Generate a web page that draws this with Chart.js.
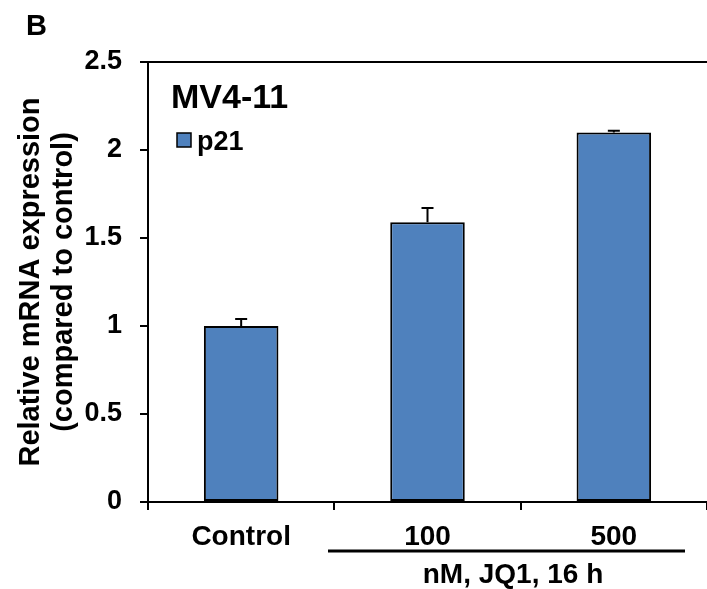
<!DOCTYPE html>
<html>
<head>
<meta charset="utf-8">
<script src="https://cdn.jsdelivr.net/npm/chart.js@4/dist/chart.umd.min.js"></script>
<style>
  html, body { margin: 0; padding: 0; background: #fff; }
  #wrap { width: 707px; height: 589px; }
</style>
</head>
<body>
<div id="wrap"><canvas id="chart" width="707" height="589"></canvas></div>
<script>
// values
const categories = ['Control', '100', '500'];
const p21Values = [1.00, 1.59, 2.10];
const p21Errors = [0.04, 0.08, 0.01];
const yTicks = [0, 0.5, 1, 1.5, 2, 2.5];

const FONT = "'Liberation Sans', Arial, sans-serif";
const BAR_BLUE = '#4F81BD';

// error bars, frame line and the extra text (panel letter, cell line, legend, group label)
const extrasPlugin = {
    id: 'extras',
    afterDatasetsDraw(chart) {
        const ctx = chart.ctx;
        const meta = chart.getDatasetMeta(0);
        const y = chart.scales.y;
        ctx.save();
        ctx.strokeStyle = '#000';
        ctx.lineWidth = 2;
        meta.data.forEach((bar, i) => {
            const top = y.getPixelForValue(p21Values[i] + p21Errors[i]);
            const base = y.getPixelForValue(p21Values[i]);
            ctx.beginPath();
            ctx.moveTo(bar.x, base);
            ctx.lineTo(bar.x, top);
            ctx.moveTo(bar.x - 6, top);
            ctx.lineTo(bar.x + 6, top);
            ctx.stroke();
        });
        ctx.restore();
    },
    afterDraw(chart) {
        const ctx = chart.ctx;
        const area = chart.chartArea;
        ctx.save();
        ctx.fillStyle = '#000';
        ctx.strokeStyle = '#000';

        // top frame line
        ctx.lineWidth = 2;
        ctx.beginPath();
        ctx.moveTo(area.left - 8, area.top);
        ctx.lineTo(chart.width, area.top);
        ctx.stroke();

        // panel letter
        ctx.font = 'bold 29px ' + FONT;
        ctx.textAlign = 'left';
        ctx.textBaseline = 'alphabetic';
        ctx.fillText('B', 26, 35);

        // cell line
        ctx.font = 'bold 34px ' + FONT;
        ctx.fillText('MV4-11', 171, 108);

        // legend
        ctx.fillStyle = BAR_BLUE;
        ctx.fillRect(177, 133, 14, 14);
        ctx.lineWidth = 1.5;
        ctx.strokeRect(177, 133, 14, 14);
        ctx.fillStyle = '#000';
        ctx.font = 'bold 27px ' + FONT;
        ctx.fillText('p21', 197, 150);

        // y axis title (two lines)
        ctx.font = 'bold 29px ' + FONT;
        ctx.textAlign = 'center';
        [['Relative mRNA expression', 39], ['(compared to control)', 72]].forEach(([txt, x]) => {
            ctx.save();
            ctx.translate(x, 282);
            ctx.rotate(-Math.PI / 2);
            ctx.fillText(txt, 0, 0);
            ctx.restore();
        });

        // treatment group underline + label
        ctx.lineWidth = 3;
        ctx.beginPath();
        ctx.moveTo(328, 551);
        ctx.lineTo(685, 551);
        ctx.stroke();
        ctx.font = 'bold 28px ' + FONT;
        ctx.fillText('nM, JQ1, 16 h', 513, 583);
        ctx.restore();
    }
};

new Chart(document.getElementById('chart'), {
    type: 'bar',
    data: {
        labels: categories,
        datasets: [{
            label: 'p21',
            data: p21Values,
            backgroundColor: BAR_BLUE,
            borderColor: '#000',
            borderWidth: 2,
            borderSkipped: false,
            categoryPercentage: 1,
            barPercentage: 0.4
        }]
    },
    options: {
        responsive: false,
        animation: false,
        layout: { padding: { left: 0, right: 0, top: 62, bottom: 0 } },
        plugins: {
            legend: { display: false },
            tooltip: { enabled: false }
        },
        scales: {
            x: {
                afterFit(scale) { scale.height = 87; },
                grid: { drawOnChartArea: false, color: '#000', lineWidth: 2, tickLength: 8 },
                border: { color: '#000', width: 2 },
                ticks: {
                    color: '#000',
                    padding: 10,
                    font: { family: FONT, size: 28, weight: 'bold' }
                }
            },
            y: {
                min: 0,
                max: 2.5,
                afterFit(scale) { scale.width = 148; },
                afterBuildTicks(scale) { scale.ticks = yTicks.map(v => ({ value: v })); },
                grid: { drawOnChartArea: false, color: '#000', lineWidth: 2, tickLength: 8 },
                border: { color: '#000', width: 2 },
                ticks: {
                    color: '#000',
                    padding: 18,
                    font: { family: FONT, size: 27, weight: 'bold' },
                    callback: v => String(v)
                }
            }
        }
    },
    plugins: [extrasPlugin]
});
</script>
</body>
</html>
